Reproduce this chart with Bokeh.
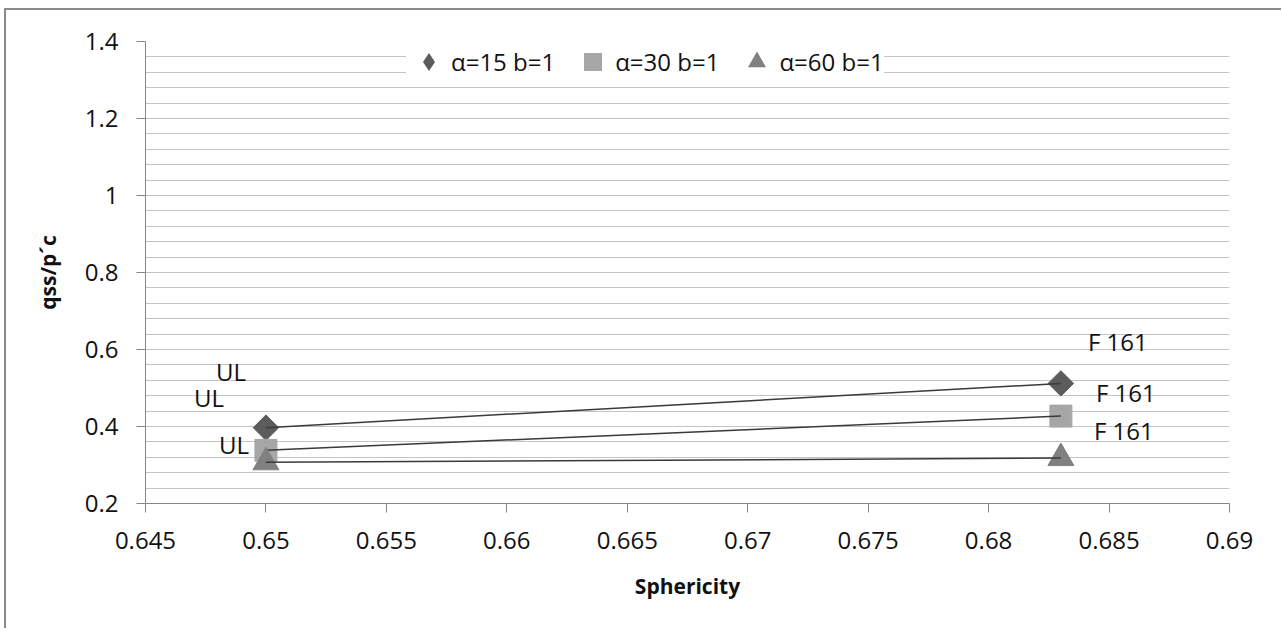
import numpy as np
from bokeh.plotting import figure
from bokeh.models import FixedTicker, Legend, LegendItem, ColumnDataSource
from bokeh.core.properties import value
from bokeh.embed import file_html
from bokeh.resources import INLINE

# ---- data ----
sphericity = [0.65, 0.683]
series_names = ["α=15 b=1", "α=30 b=1", "α=60 b=1"]
q_a15 = [0.397, 0.512]
q_a30 = [0.338, 0.427]
q_a60 = [0.307, 0.318]
point_labels = ["UL", "F 161"]

x_ticks = [0.645, 0.65, 0.655, 0.66, 0.665, 0.67, 0.675, 0.68, 0.685, 0.69]
x_tick_labels = ["0.645", "0.65", "0.655", "0.66", "0.665", "0.67", "0.675", "0.68", "0.685", "0.69"]
y_ticks = [0.2, 0.4, 0.6, 0.8, 1.0, 1.2, 1.4]
y_tick_labels = ["0.2", "0.4", "0.6", "0.8", "1", "1.2", "1.4"]

FONT = "Open Sans"
AXIS_COL = "#868686"
GRID_COL = "#c4c4c4"

p = figure(width=1277, height=620, x_range=(0.645, 0.69), y_range=(0.2, 1.4),
           output_backend="svg", toolbar_location=None,
           min_border_left=139, min_border_right=54, min_border_top=31, min_border_bottom=127)
p.styles = {"margin-left": "6px", "margin-top": "10px", "box-shadow": "-2px -2px 0 0 #8a8a8a"}
p.outline_line_color = None
p.background_fill_color = "white"
p.border_fill_color = "white"

# axes
p.xaxis.ticker = FixedTicker(ticks=x_ticks)
p.xaxis.major_label_overrides = dict(zip(x_ticks, x_tick_labels))
p.yaxis.ticker = FixedTicker(ticks=y_ticks)
p.yaxis.major_label_overrides = dict(zip(y_ticks, y_tick_labels))

for ax in (p.xaxis[0], p.yaxis[0]):
    ax.axis_line_color = AXIS_COL
    ax.major_tick_line_color = AXIS_COL
    ax.major_tick_out = 9
    ax.major_tick_in = 0
    ax.minor_tick_line_color = None
    ax.major_label_text_font = FONT
    ax.major_label_text_font_size = "24px"
    ax.major_label_text_color = "#111111"
    ax.axis_label_text_font = FONT
    ax.axis_label_text_font_size = "21px"
    ax.axis_label_text_font_style = "bold"
    ax.axis_label_text_color = "#111111"

p.xaxis.axis_label = "Sphericity"
p.yaxis.axis_label = "qss/p´c"
p.xaxis.major_label_standoff = 19
p.yaxis.major_label_standoff = 18
p.xaxis.axis_label_standoff = 20
p.yaxis.axis_label_standoff = 20

# horizontal gridlines every 0.04 (all same style)
grid_y = [round(v, 2) for v in np.arange(0.24, 1.4001, 0.04)]
p.xgrid.grid_line_color = None
p.ygrid.ticker = FixedTicker(ticks=grid_y)
p.ygrid.grid_line_color = GRID_COL
p.ygrid.grid_line_width = 1
p.ygrid.minor_grid_line_color = None

# series
colors = ["#5c5c5c", "#a6a6a6", "#808080"]
markers = ["square", "square", "triangle"]
legend_markers = ["diamond", "square", "triangle"]
angles = [np.pi / 4, 0, 0]
sizes = [18, 22, 26]
series_vals = [q_a15, q_a30, q_a60]
label_xo = [[-35, 57], [-57, 65], [-32, 63]]
label_yo = [[-56, -42], [-53, -24], [-18, -28]]

legend_items = []
for name, vals, col, mk, lmk, ang, sz, xo, yo in zip(series_names, series_vals, colors, markers,
                                                       legend_markers, angles, sizes, label_xo, label_yo):
    src = ColumnDataSource(dict(x=sphericity, y=vals, lab=point_labels, xo=xo, yo=yo))
    p.scatter("x", "y", source=src, marker=mk, size=sz, angle=ang,
              fill_color=col, line_color=col)
    p.line("x", "y", source=src, line_color="#3a3a3a", line_width=1.5)
    p.text("x", "y", text="lab", source=src, x_offset="xo", y_offset="yo",
           text_font=value(FONT), text_font_size="24px", text_color="#111111",
           text_align="center", text_baseline="middle")
    # legend glyph renderer: zero size in the plot, legend sizes it from the glyph box
    lr = p.scatter("x", "y", source=src, marker=lmk, size=0,
                   fill_color=col, line_color=None)
    legend_items.append(LegendItem(label=name, renderers=[lr]))

legend = Legend(items=legend_items, orientation="horizontal", location=(261, 419),
                glyph_width=45, glyph_height=45, label_standoff=-8, spacing=15,
                padding=5, margin=0, border_line_color=None, background_fill_color="white",
                background_fill_alpha=1.0, label_text_font=FONT, label_text_font_size="24px",
                label_text_color="#111111")
p.add_layout(legend, "center")

open("out.html", "w").write(file_html(p, INLINE))
